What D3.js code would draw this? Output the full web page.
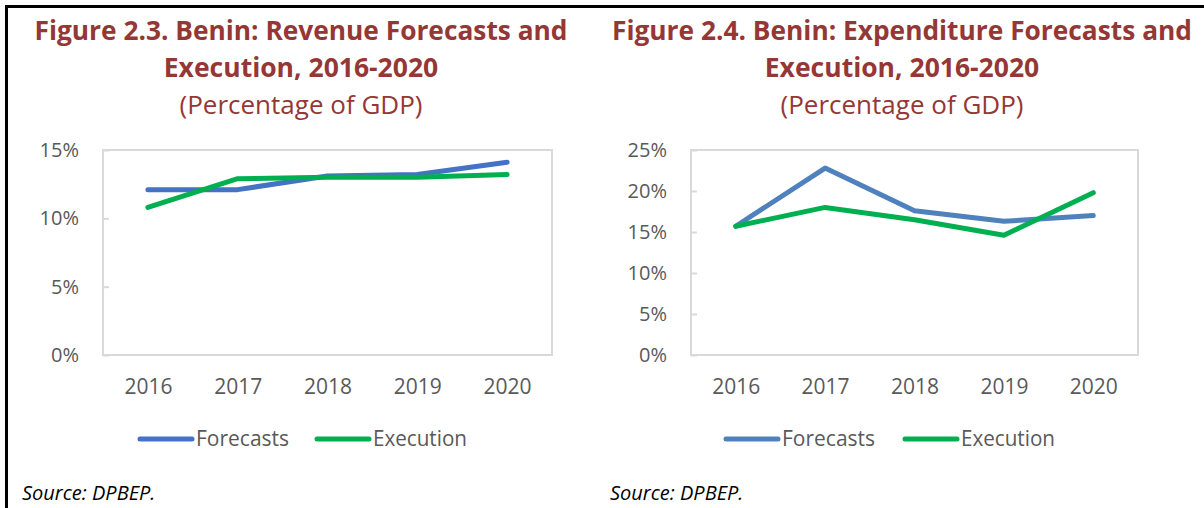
<!DOCTYPE html>
<html lang="en">
<head>
    <meta charset="UTF-8">
    <title>Benin: Revenue and Expenditure Forecasts and Execution</title>
    <script src="https://d3js.org/d3.v7.min.js"></script>
    <style>
        body { margin: 0; background: #fff; }
        text { font-family: "Open Sans", "Noto Sans", sans-serif; }
    </style>
</head>
<body>

<div id="chart"></div>

<script>
    // Data (percentage of GDP)
    var years = ["2016", "2017", "2018", "2019", "2020"];
    var revForecasts = [12.1, 12.1, 13.1, 13.2, 14.1];
    var revExecution = [10.8, 12.9, 13.0, 13.0, 13.2];
    var expForecasts = [15.7, 22.8, 17.6, 16.3, 17.0];
    var expExecution = [15.7, 18.0, 16.5, 14.6, 19.8];
    var revTicks = [0, 5, 10, 15];
    var expTicks = [0, 5, 10, 15, 20, 25];
    var seriesNames = ["Forecasts", "Execution"];

    var width = 1204, height = 508;
    var titleColor = "#953735";
    var axisColor = "#d9d9d9";
    var labelColor = "#595959";

    var svg = d3.select("#chart").append("svg")
        .attr("width", width)
        .attr("height", height);

    // outer frame (top and left edges only are visible)
    svg.append("path")
        .attr("d", "M6.5," + height + "V6.5H" + width)
        .attr("fill", "none")
        .attr("stroke", "#000")
        .attr("stroke-width", 3);

    var panels = [
        {
            title: ["Figure 2.3. Benin: Revenue Forecasts and", "Execution, 2016-2020"],
            titleX: 301, titleW: [533, 287],
            left: 103, right: 552, ticks: revTicks,
            series: [revForecasts, revExecution],
            colors: ["#4472c4", "#00b050"],
            legendX: 138, legendStep: 177, sourceX: 22
        },
        {
            title: ["Figure 2.4. Benin: Expenditure Forecasts and", "Execution, 2016-2020"],
            titleX: 902, titleW: [580, 287],
            left: 691, right: 1138, ticks: expTicks,
            series: [expForecasts, expExecution],
            colors: ["#4f81bd", "#00b050"],
            legendX: 724, legendStep: 179, sourceX: 610
        }
    ];

    var plotTop = 150, plotBottom = 355;

    // squeeze a text to a target width if the fallback font runs wider
    function fitText(sel, w) {
        var len = sel.node().getComputedTextLength();
        if (len > w) sel.attr("textLength", w).attr("lengthAdjust", "spacingAndGlyphs");
    }

    panels.forEach(function (p) {
        var g = svg.append("g");

        // titles
        p.title.forEach(function (t, i) {
            var tx = g.append("text")
                .attr("x", p.titleX)
                .attr("y", 40 + i * 37)
                .attr("text-anchor", "middle")
                .attr("fill", titleColor)
                .style("font-size", "26.5px")
                .style("font-weight", "bold")
                .text(t);
            fitText(tx, p.titleW[i]);
        });
        var sub = g.append("text")
            .attr("x", p.titleX)
            .attr("y", 114)
            .attr("text-anchor", "middle")
            .attr("fill", titleColor)
            .style("font-size", "26px")
            .text("(Percentage of GDP)");
        fitText(sub, 248);

        var x = d3.scalePoint()
            .domain(years)
            .range([p.left, p.right])
            .padding(0.5);

        var y = d3.scaleLinear()
            .domain([0, d3.max(p.ticks)])
            .range([plotBottom, plotTop]);

        // plot area border
        g.append("rect")
            .attr("x", p.left)
            .attr("y", plotTop)
            .attr("width", p.right - p.left)
            .attr("height", plotBottom - plotTop)
            .attr("fill", "none")
            .attr("stroke", axisColor)
            .attr("stroke-width", 2);

        // y axis, ticks pointing into the plot
        var yAxis = d3.axisLeft(y)
            .tickValues(p.ticks)
            .tickSize(-6)
            .tickPadding(24)
            .tickFormat(function (d) { return d + "%"; });

        var ya = g.append("g")
            .attr("transform", "translate(" + p.left + ",0)")
            .call(yAxis);
        ya.select(".domain").remove();
        ya.selectAll("line").attr("stroke", axisColor).attr("stroke-width", 2);
        ya.selectAll("text")
            .attr("fill", labelColor)
            .style("font-size", "20px")
            .style("font-family", "'Open Sans', sans-serif");

        // x axis labels
        var xAxis = d3.axisBottom(x).tickSize(0).tickPadding(24);
        var xa = g.append("g")
            .attr("transform", "translate(0," + plotBottom + ")")
            .call(xAxis);
        xa.select(".domain").remove();
        xa.selectAll("text")
            .attr("fill", labelColor)
            .style("font-size", "21px")
            .style("font-family", "'Open Sans', sans-serif");

        // lines
        var line = d3.line()
            .x(function (d, i) { return x(years[i]); })
            .y(function (d) { return y(d); });

        p.series.forEach(function (s, i) {
            g.append("path")
                .datum(s)
                .attr("d", line)
                .attr("fill", "none")
                .attr("stroke", p.colors[i])
                .attr("stroke-width", 5)
                .attr("stroke-linecap", "round")
                .attr("stroke-linejoin", "round");
        });

        // legend
        seriesNames.forEach(function (name, i) {
            var lx = p.legendX + i * p.legendStep;
            g.append("line")
                .attr("x1", lx + 2).attr("x2", lx + 54)
                .attr("y1", 439).attr("y2", 439)
                .attr("stroke", p.colors[i])
                .attr("stroke-width", 5)
                .attr("stroke-linecap", "round");
            var lt = g.append("text")
                .attr("x", lx + 58)
                .attr("y", 446)
                .attr("fill", labelColor)
                .style("font-size", "21px")
                .text(name);
            fitText(lt, 94);
        });

        // source note
        var src = g.append("text")
            .attr("x", p.sourceX)
            .attr("y", 500)
            .attr("fill", "#000")
            .style("font-size", "20px")
            .style("font-style", "italic")
            .text("Source: DPBEP.");
        fitText(src, 138);
    });
</script>

</body>
</html>
